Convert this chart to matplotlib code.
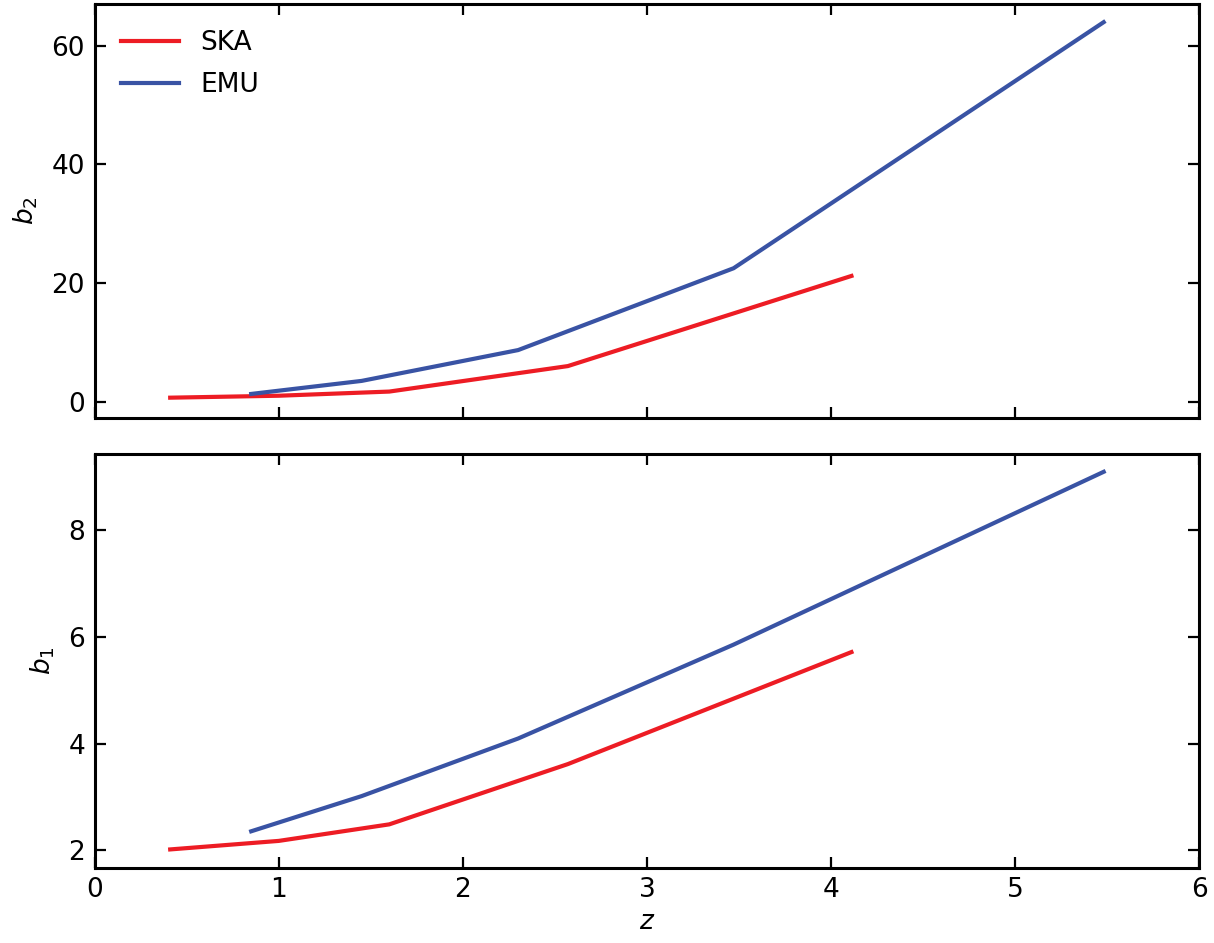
import matplotlib
matplotlib.use('Agg')
import matplotlib.pyplot as plt

# redshift bins
z_ska = [0.41, 1.0, 1.6, 2.57, 4.11]
z_emu = [0.85, 1.45, 2.3, 3.47, 5.48]

# bias values
b1_ska = [2.02, 2.18, 2.49, 3.62, 5.72]
b1_emu = [2.36, 3.02, 4.1, 5.86, 9.1]
b2_ska = [0.67, 1.0, 1.7, 6.0, 21.2]
b2_emu = [1.3, 3.5, 8.7, 22.5, 64.0]

red = '#ED1C24'
blue = '#3953A4'

plt.rcParams['font.size'] = 19
plt.rcParams['axes.linewidth'] = 2.2

fig, (ax2, ax1) = plt.subplots(2, 1, sharex=True, figsize=(12.14, 9.43), dpi=100)
fig.subplots_adjust(left=0.078, right=0.988, top=0.996, bottom=0.08, hspace=0.087)

ax2.plot(z_ska, b2_ska, color=red, lw=3, label='SKA')
ax2.plot(z_emu, b2_emu, color=blue, lw=3, label='EMU')
ax2.set_ylim(-2.7, 67.1)
ax2.set_yticks([0, 20, 40, 60])
ax2.set_ylabel('$b_2$', labelpad=8)
ax2.legend(loc='upper left', frameon=False, handlelength=2.2, fontsize=19,
           borderaxespad=0.6, labelspacing=0.6)

ax1.plot(z_ska, b1_ska, color=red, lw=3)
ax1.plot(z_emu, b1_emu, color=blue, lw=3)
ax1.set_ylim(1.68, 9.44)
ax1.set_yticks([2, 4, 6, 8])
ax1.set_ylabel('$b_1$', labelpad=8)
ax1.set_xlim(0, 6)
ax1.set_xlabel('$z$', labelpad=4)

for ax in (ax1, ax2):
    ax.tick_params(direction='in', top=True, right=True, length=8, width=1.6,
                   labelsize=19, pad=7)

fig.savefig('out.png')
